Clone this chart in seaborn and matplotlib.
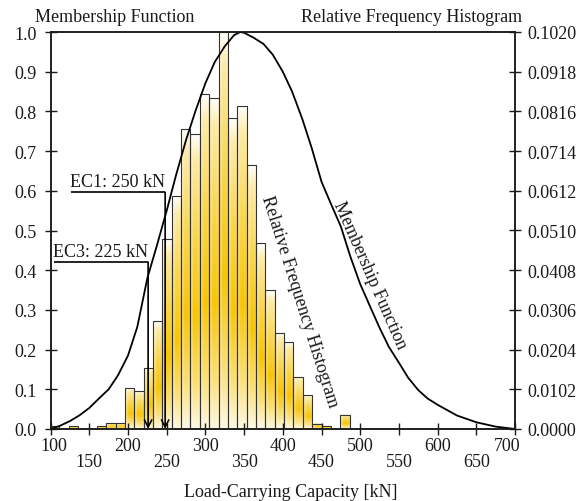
import numpy as np
import pandas as pd
import matplotlib
matplotlib.use("Agg")
import matplotlib.pyplot as plt
import matplotlib.transforms as mtransforms
from matplotlib.ticker import FixedLocator, FixedFormatter
import seaborn as sns

# ---------------- data ----------------
bin_start = 99.2
bin_width = 12.1
rel_freq = [0.0007, 0.0, 0.0007, 0.0, 0.0, 0.0007, 0.0015, 0.0015,
            0.0105, 0.0097, 0.0157, 0.0277, 0.0488, 0.0599, 0.0771, 0.0757,
            0.0860, 0.0851, 0.1020, 0.0800, 0.0830, 0.0679, 0.0477, 0.0357,
            0.0247, 0.0224, 0.0134, 0.0087, 0.0013, 0.0007, 0.0, 0.0036]

mf_x = [100, 112, 125, 137, 150, 162, 175, 187, 200, 212, 225, 237, 250, 262,
        275, 287, 300, 312, 325, 337, 345, 350, 362, 375, 387, 400, 412, 425,
        437, 450, 462, 475, 487, 500, 512, 525, 537, 550, 562, 575, 587, 600,
        625, 650, 675, 700]
mf_y = [0.000, 0.008, 0.020, 0.034, 0.053, 0.076, 0.100, 0.135, 0.185, 0.257,
        0.380, 0.460, 0.550, 0.639, 0.728, 0.800, 0.871, 0.924, 0.964, 0.992,
        1.000, 0.998, 0.986, 0.970, 0.943, 0.900, 0.850, 0.782, 0.710, 0.623,
        0.568, 0.510, 0.436, 0.365, 0.312, 0.255, 0.207, 0.167, 0.129, 0.098,
        0.077, 0.061, 0.034, 0.017, 0.006, 0.000]

x_major = [100, 200, 300, 400, 500, 600, 700]
x_minor = [150, 250, 350, 450, 550, 650]
y_left = [0.0, 0.1, 0.2, 0.3, 0.4, 0.5, 0.6, 0.7, 0.8, 0.9, 1.0]
y_right = [0.0000, 0.0102, 0.0204, 0.0306, 0.0408, 0.0510, 0.0612, 0.0714,
           0.0816, 0.0918, 0.1020]

ec1_x, ec1_level, ec1_text_x = 248.0, 0.596, 124.7
ec3_x, ec3_level, ec3_text_x = 226.0, 0.420, 103.1

# ---------------- style ----------------
sns.set_style("ticks")
plt.rcParams['font.family'] = ['Liberation Serif', 'DejaVu Serif']
FS = 13
dark = '#1a1a1a'

fig = plt.figure(figsize=(5.79, 5.02), dpi=100)
ax = fig.add_axes([50.6 / 579, 1 - 430 / 502, (515 - 50.6) / 579, (430 - 33) / 502])
ax2 = ax.twinx()

# histogram on the right axis
edges = [bin_start + bin_width * i for i in range(len(rel_freq) + 1)]
centers = [(edges[i] + edges[i + 1]) / 2 for i in range(len(rel_freq))]
hist_df = pd.DataFrame({'capacity': centers, 'freq': rel_freq})
sns.histplot(data=hist_df, x='capacity', weights='freq', bins=edges, ax=ax2,
             stat='count', edgecolor='#333333', linewidth=0.8, color='white',
             alpha=1)
gold = np.array([247, 196, 0]) / 255.0
white = np.array([1.0, 1.0, 1.0])
ny, nx = 160, 30
t = np.linspace(0, 1, ny)[:, None]
s = np.linspace(0, 1, nx)[None, :]
v = np.interp(t, [0, 0.08, 0.35, 0.62, 0.85, 1.0], [0.0, 0.35, 0.72, 1.0, 0.55, 0.12])
h = np.interp(s, [0, 0.12, 0.4, 1.0], [0.08, 0.6, 1.0, 0.9])
inten = (v * h)[:, :, None]
grad = white * (1 - inten) + gold * inten
for p in list(ax2.patches):
    p.set_facecolor('none')
    p.set_zorder(3)
    hgt = p.get_height()
    if hgt > 0:
        x0 = p.get_x()
        w = p.get_width()
        ax2.imshow(grad, extent=[x0, x0 + w, 0, hgt], aspect='auto',
                   origin='upper', zorder=2, interpolation='bilinear')
    else:
        p.set_visible(False)

# membership function on left axis (drawn above)
sns.lineplot(x=mf_x, y=mf_y, ax=ax, color='black', linewidth=1.3, sort=False)
ax.set_zorder(ax2.get_zorder() + 1)
ax.patch.set_visible(False)

# EC annotations
for xv, lev, tx, lab in [(ec1_x, ec1_level, ec1_text_x, 'EC1: 250 kN'),
                         (ec3_x, ec3_level, ec3_text_x, 'EC3: 225 kN')]:
    x_start = tx + 1.5
    ax.plot([x_start, xv], [lev, lev], color='black', lw=1.2, solid_capstyle='butt')
    ax.annotate('', xy=(xv, 0.0), xytext=(xv, lev),
                arrowprops=dict(arrowstyle='->', color='black', lw=1.2,
                                mutation_scale=13, shrinkA=0, shrinkB=0))
    ax.text(tx, lev + 0.017, lab, fontsize=FS, ha='left', va='baseline', color=dark)

ax.text(422.2, 0.323, 'Relative Frequency Histogram', rotation=-72.4,
        rotation_mode='anchor', ha='center', va='center', fontsize=FS, color=dark)
ax.text(512.5, 0.390, 'Membership Function', rotation=-66.3,
        rotation_mode='anchor', ha='center', va='center', fontsize=FS, color=dark)

# axes limits and ticks
ax.set_xlim(100, 700)
ax.set_ylim(0, 1)
ax2.set_ylim(0, 0.102)
ax.set_xticks(x_major)
ax.set_xticklabels([str(v_) for v_ in x_major])
ax.xaxis.set_minor_locator(FixedLocator(x_minor))
ax.xaxis.set_minor_formatter(FixedFormatter([str(v_) for v_ in x_minor]))
ax.set_yticks(y_left)
ax.set_yticklabels([f'{v_:.1f}' for v_ in y_left])
ax2.set_yticks(y_right)
ax2.set_yticklabels([f'{v_:.4f}' for v_ in y_right])
ax.yaxis.set_minor_locator(FixedLocator([]))

ax.tick_params(axis='x', which='major', direction='inout', length=8, width=1,
               labelsize=FS, pad=1.5, colors=dark)
ax.tick_params(axis='x', which='minor', direction='inout', length=8, width=1,
               labelsize=FS, pad=13.5, colors=dark)
ax.tick_params(axis='y', direction='inout', length=8, width=1, labelsize=FS,
               pad=6, colors=dark)
ax2.tick_params(axis='y', direction='inout', length=8, width=1, labelsize=FS,
                pad=5, colors=dark)
ax.set_xlabel('')
ax.set_ylabel('')
ax2.set_ylabel('')
ax2.set_xlabel('')
for a in (ax, ax2):
    for sp in a.spines.values():
        sp.set_linewidth(1.1)
        sp.set_color(dark)
        sp.set_visible(True)

# label nudges at the ends
fig.canvas.draw()
lbls = ax.get_xticklabels()
lbls[0].set_transform(lbls[0].get_transform() +
                      mtransforms.ScaledTranslation(3 / 100, 0, fig.dpi_scale_trans))
lbls[-1].set_transform(lbls[-1].get_transform() +
                       mtransforms.ScaledTranslation(-8 / 100, 0, fig.dpi_scale_trans))

fig.text(291 / 579, 1 - 497 / 502, 'Load-Carrying Capacity [kN]', fontsize=FS,
         ha='center', va='baseline', color=dark)
fig.text(115 / 579, 1 - 22 / 502, 'Membership Function', fontsize=FS,
         ha='center', va='baseline', color=dark)
fig.text(412 / 579, 1 - 22 / 502, 'Relative Frequency Histogram', fontsize=FS,
         ha='center', va='baseline', color=dark)

fig.savefig('out.png', dpi=100, facecolor='white')
